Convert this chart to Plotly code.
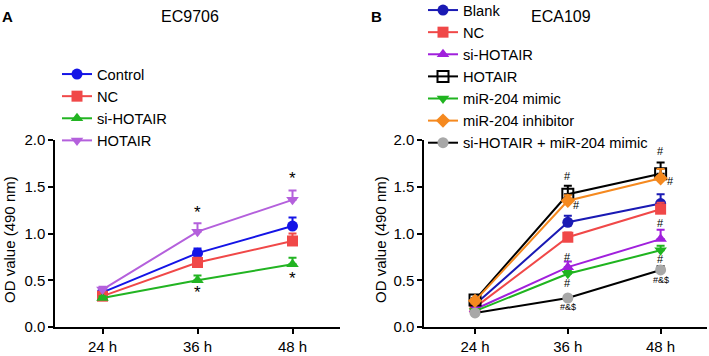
import plotly.graph_objects as go

times = ["24 h", "36 h", "48 h"]

# Panel A: EC9706
a_names = ["Control", "NC", "si-HOTAIR", "HOTAIR"]
a_vals = {
    "Control": [0.37, 0.79, 1.08],
    "NC": [0.33, 0.69, 0.92],
    "si-HOTAIR": [0.31, 0.50, 0.67],
    "HOTAIR": [0.40, 1.02, 1.36],
}
a_err = {
    "Control": [0.04, 0.05, 0.09],
    "NC": [0.03, 0.05, 0.08],
    "si-HOTAIR": [0.02, 0.05, 0.07],
    "HOTAIR": [0.03, 0.09, 0.10],
}

# Panel B: ECA109
b_names = ["Blank", "NC", "si-HOTAIR", "HOTAIR", "miR-204 mimic",
           "miR-204 inhibitor", "si-HOTAIR + miR-204 mimic"]
b_vals = {
    "Blank": [0.24, 1.12, 1.32],
    "NC": [0.21, 0.96, 1.26],
    "si-HOTAIR": [0.19, 0.64, 0.94],
    "HOTAIR": [0.29, 1.42, 1.64],
    "miR-204 mimic": [0.17, 0.57, 0.82],
    "miR-204 inhibitor": [0.28, 1.35, 1.59],
    "si-HOTAIR + miR-204 mimic": [0.15, 0.31, 0.61],
}
b_err = {
    "Blank": [0.02, 0.07, 0.10],
    "NC": [0.02, 0.05, 0.07],
    "si-HOTAIR": [0.02, 0.06, 0.10],
    "HOTAIR": [0.02, 0.09, 0.12],
    "miR-204 mimic": [0.02, 0.03, 0.05],
    "miR-204 inhibitor": [0.02, 0.06, 0.10],
    "si-HOTAIR + miR-204 mimic": [0.01, 0.02, 0.04],
}

a_style = {
    "Control": dict(color="#1414e6", symbol="circle"),
    "NC": dict(color="#f04848", symbol="square"),
    "si-HOTAIR": dict(color="#22b422", symbol="triangle-up"),
    "HOTAIR": dict(color="#b460dc", symbol="triangle-down"),
}
b_style = {
    "Blank": dict(color="#1a1ab4", mcolor="#1a1ab4", symbol="circle"),
    "NC": dict(color="#f04848", mcolor="#f04848", symbol="square"),
    "si-HOTAIR": dict(color="#a020dc", mcolor="#a020dc", symbol="triangle-up"),
    "HOTAIR": dict(color="#000000", mcolor="#000000", symbol="square-open"),
    "miR-204 mimic": dict(color="#1fb41f", mcolor="#1fb41f", symbol="triangle-down"),
    "miR-204 inhibitor": dict(color="#f5891f", mcolor="#f5891f", symbol="diamond"),
    "si-HOTAIR + miR-204 mimic": dict(color="#000000", mcolor="#a8a8a8", symbol="circle"),
}

FONT = "Liberation Sans, Arial, sans-serif"
LEG_FS = 14.7
fig = go.Figure()

for n in a_names:
    s = a_style[n]
    fig.add_trace(go.Scatter(
        x=times, y=a_vals[n], name=n, mode="lines+markers",
        line=dict(color=s["color"], width=2),
        marker=dict(color=s["color"], symbol=s["symbol"], size=11),
        error_y=dict(type="data", array=a_err[n], arrayminus=[0, 0, 0], symmetric=False,
                     color=s["color"], thickness=2, width=4),
        xaxis="x", yaxis="y", legend="legend", cliponaxis=False))

for n in b_names:
    s = b_style[n]
    mk = dict(color=s["mcolor"], symbol=s["symbol"], size=11)
    if s["symbol"] == "square-open":
        mk["line"] = dict(color="#000000", width=2)
    fig.add_trace(go.Scatter(
        x=times, y=b_vals[n], name=n, mode="lines+markers",
        line=dict(color=s["color"], width=2),
        marker=mk,
        error_y=dict(type="data", array=b_err[n], arrayminus=[0, 0, 0], symmetric=False,
                     color=s["color"], thickness=2, width=4),
        xaxis="x2", yaxis="y2", legend="legend2", cliponaxis=False))

W, H = 709, 356
def px(x):
    return x / W
def py(y):
    return (H - y) / H

axis_common = dict(showline=True, linecolor="black", linewidth=1.5, ticks="outside",
                   ticklen=5, tickwidth=1.5, tickcolor="black", showgrid=False,
                   zeroline=False, tickfont=dict(family=FONT, size=15, color="black"))

fig.update_layout(
    width=W, height=H, margin=dict(l=0, r=0, t=0, b=0, autoexpand=False),
    plot_bgcolor="white", paper_bgcolor="white",
    font=dict(family=FONT, size=15, color="black"),
    xaxis=dict(domain=[px(55), px(340)], range=[-0.5, 2.5], type="category",
               anchor="y", **axis_common),
    yaxis=dict(domain=[py(327), py(140)], range=[0, 2.0], tickvals=[0, 0.5, 1.0, 1.5, 2.0],
               ticktext=["0.0", "0.5", "1.0", "1.5", "2.0"], anchor="x", **axis_common),
    xaxis2=dict(domain=[px(424), px(707)], range=[-0.55, 2.5], type="category",
                anchor="y2", **axis_common),
    yaxis2=dict(domain=[py(327), py(140)], range=[0, 2.0], tickvals=[0, 0.5, 1.0, 1.5, 2.0],
                ticktext=["0.0", "0.5", "1.0", "1.5", "2.0"], anchor="x2", **axis_common),
    legend=dict(x=px(57), y=py(58), xanchor="left", yanchor="top",
                bgcolor="rgba(0,0,0,0)", font=dict(family=FONT, size=LEG_FS),
                itemwidth=30, tracegroupgap=0),
    legend2=dict(x=px(423), y=py(-6), xanchor="left", yanchor="top",
                 bgcolor="rgba(0,0,0,0)", font=dict(family=FONT, size=LEG_FS),
                 itemwidth=30, tracegroupgap=0),
    showlegend=True,
)

ann = []
def pann(text, x, y, size, angle=0):
    return dict(text=text, x=px(x), y=py(y), xref="paper", yref="paper",
                xanchor="center", yanchor="middle", showarrow=False,
                textangle=angle, font=dict(size=size))

ann.append(pann("EC9706", 190, 16, 16))
ann.append(pann("ECA109", 561, 16, 16))
ann.append(pann("<b>A</b>", 7, 17, 15))
ann.append(pann("<b>B</b>", 377, 17, 15))
for xx in (9, 380):
    ann.append(pann("OD value (490 nm)", xx, 240, 15, -90))

# significance marks panel A
for (t, v) in [("36 h", 1.23), ("48 h", 1.59), ("36 h", 0.37), ("48 h", 0.52)]:
    ann.append(dict(text="*", x=t, y=v, xref="x", yref="y", showarrow=False,
                    xanchor="center", yanchor="middle", font=dict(size=17)))

# significance marks panel B
for (t, v, dx, txt, fs) in [
    ("36 h", 1.62, 0, "#", 11), ("36 h", 1.30, 9, "#", 11), ("36 h", 0.75, 0, "#", 11),
    ("36 h", 0.47, 0, "#", 11), ("36 h", 0.21, 0, "#&$", 9),
    ("48 h", 1.88, 0, "#", 11), ("48 h", 1.56, 10, "#", 11), ("48 h", 1.11, 0, "#", 11),
    ("48 h", 0.73, 0, "#", 11), ("48 h", 0.50, 0, "#&$", 9)]:
    ann.append(dict(text=txt, x=t, y=v, xref="x2", yref="y2", showarrow=False,
                    xanchor="center", yanchor="middle",
                    xshift=dx, font=dict(size=fs)))

fig.update_layout(annotations=ann)
fig.write_html("out.html", config={"displayModeBar": False},
               post_script="document.body.style.margin='0px';document.body.style.padding='0px';")
